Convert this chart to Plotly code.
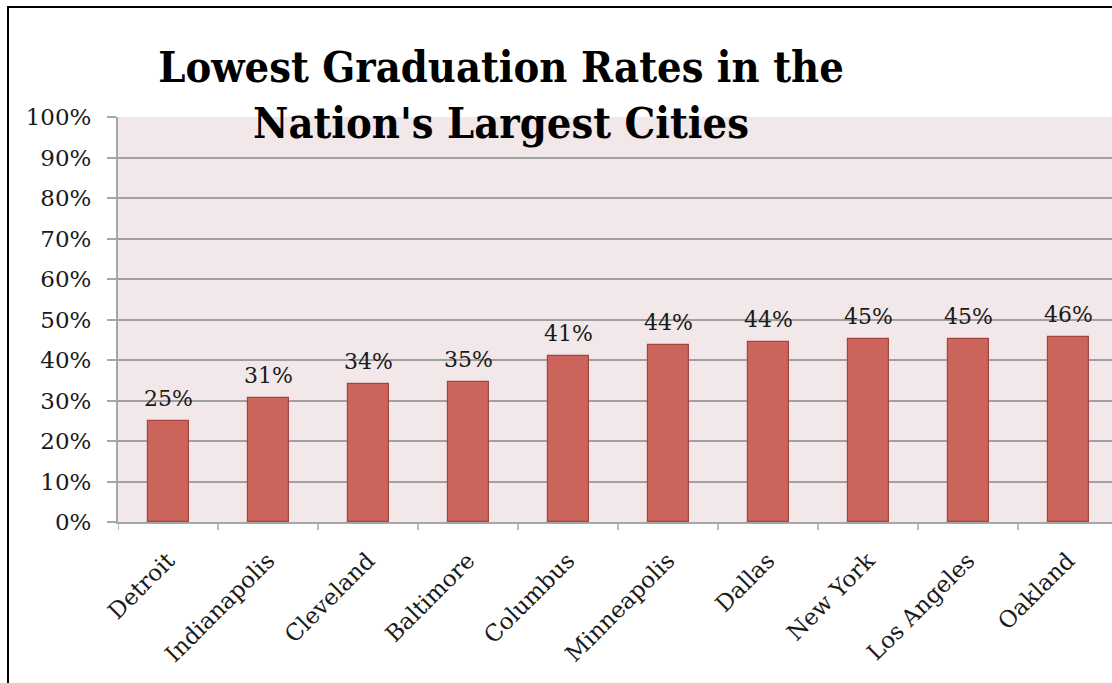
import plotly.graph_objects as go

cities = ["Detroit", "Indianapolis", "Cleveland", "Baltimore", "Columbus",
          "Minneapolis", "Dallas", "New York", "Los Angeles", "Oakland"]
rates = [0.249, 0.306, 0.341, 0.346, 0.409, 0.437, 0.445, 0.453, 0.453, 0.456]
y_ticks = [0, 0.1, 0.2, 0.3, 0.4, 0.5, 0.6, 0.7, 0.8, 0.9, 1.0]
title_text = "Lowest Graduation Rates in the<br>Nation's Largest Cities"

W, H = 1112, 683
ML, MT, MB = 118, 117, 161
PH = H - MT - MB
serif = "DejaVu Serif, serif"

fig = go.Figure()
fig.add_trace(go.Bar(
    x=list(range(len(cities))), y=rates,
    width=0.41,
    marker=dict(color="#cb645a", line=dict(color="#a8443f", width=1.2)),
))

for i, r in enumerate(rates):
    fig.add_annotation(x=i, y=r, xref="x", yref="y", text=f"{round(r*100)}%",
                       showarrow=False, yanchor="bottom", yshift=8,
                       font=dict(family=serif, size=22, color="#1a1a1a"))

fig.update_layout(
    width=W, height=H,
    margin=dict(l=ML, r=0, t=MT, b=MB),
    paper_bgcolor="white",
    plot_bgcolor="#f2e8e9",
    showlegend=False,
    bargap=0,
    title=dict(text=title_text, x=501 / W, xanchor="center",
               y=1 - 82 / H, yanchor="top",
               font=dict(family="DejaVu Serif Condensed, DejaVu Serif, serif",
                         size=43, color="black", weight="bold")),
    xaxis=dict(
        range=[-0.5, 9.44],
        tickmode="array", tickvals=list(range(len(cities))), ticktext=cities,
        tickangle=-45,
        tickfont=dict(family=serif, size=23, color="#1a1a1a"),
        showgrid=False, zeroline=False,
        showline=True, linecolor="#a6a6a6", linewidth=2,
        ticks="", ticklabelstandoff=14,
    ),
    yaxis=dict(
        range=[0, 1.0],
        tickmode="array", tickvals=y_ticks, tickformat=".0%",
        tickfont=dict(family=serif, size=23, color="#1a1a1a"),
        showgrid=True, gridcolor="#a0a0a0", gridwidth=1.5,
        zeroline=False,
        showline=True, linecolor="#a6a6a6", linewidth=2,
        ticks="outside", ticklen=9, tickcolor="#a6a6a6", tickwidth=1.5,
        ticklabelstandoff=11,
    ),
    shapes=[
        *[dict(type="line", xref="x", yref="paper", x0=i - 0.5, x1=i - 0.5,
               y0=0, y1=-8 / PH,
               line=dict(color="#a6a6a6", width=1.5)) for i in range(len(cities) + 1)],
        dict(type="rect", xref="paper", yref="paper",
             x0=-110 / (W - ML), x1=1.05, y0=-0.5, y1=1 + 110 / PH,
             line=dict(color="black", width=2), fillcolor="rgba(0,0,0,0)"),
    ],
)

fig.write_html("out.html", config={"displayModeBar": False},
               post_script="document.body.style.margin='0';document.body.style.overflow='hidden';")
